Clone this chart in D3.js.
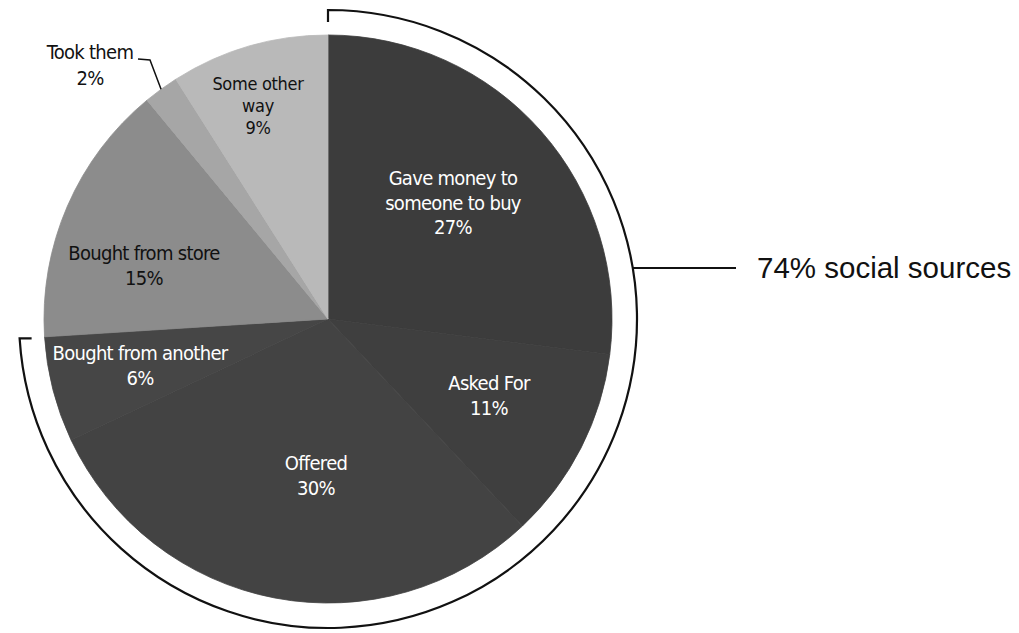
<!DOCTYPE html>
<html>
<head>
<meta charset="utf-8">
<script src="https://cdn.jsdelivr.net/npm/d3@7"></script>
<style>
  html, body { margin: 0; padding: 0; background: #fff; }
  svg { display: block; }
</style>
</head>
<body>
<svg id="chart" width="1019" height="633"></svg>
<script>
// How people obtained them (share of respondents, %)
const categories = [
  "Gave money to someone to buy",
  "Asked For",
  "Offered",
  "Bought from another",
  "Bought from store",
  "Took them",
  "Some other way"
];
const values = [27, 11, 30, 6, 15, 2, 9];
// Text lines for each slice label
const labelLines = [
  ["Gave money to", "someone to buy", "27%"],
  ["Asked For", "11%"],
  ["Offered", "30%"],
  ["Bought from another", "6%"],
  ["Bought from store", "15%"],
  ["Took them", "2%"],
  ["Some other", "way", "9%"]
];
const sliceFills = ["#3c3c3c", "#3f3f3f", "#434343", "#464646", "#8c8c8c", "#a6a6a6", "#b9b9b9"];
const labelFills = ["#fff", "#fff", "#fff", "#fff", "#111", "#111", "#111"];
// Slices that make up the "social" bracket
const socialCategories = categories.slice(0, 4);
const bracketText = "74% social sources";

const svg = d3.select("#chart");
const cx = 328, cy = 319, R = 284, bracketR = 309;
const g = svg.append("g").attr("transform", `translate(${cx},${cy})`);

const pie = d3.pie().sort(null).value(d => d.value);
const arcs = pie(categories.map((c, i) => ({ name: c, value: values[i], i })));
const arc = d3.arc().innerRadius(0).outerRadius(R);

g.selectAll("path.slice")
  .data(arcs)
  .join("path")
  .attr("class", "slice")
  .attr("d", arc)
  .attr("fill", d => sliceFills[d.data.i])
  .attr("stroke", d => sliceFills[d.data.i])
  .attr("stroke-width", 0.8);

// Label anchors (centre of the first text line, relative to the pie centre)
const labelPos = {
  "Gave money to someone to buy": [125, -141],
  "Asked For": [161, 64],
  "Offered": [-12, 144],
  "Bought from another": [-188, 34],
  "Bought from store": [-184, -66],
  "Some other way": [-70, -235]
};
const lineGap = { "Some other way": 22 };
const sizeOf = { "Some other way": 18 };

const font = "'DejaVu Sans Condensed', 'DejaVu Sans', sans-serif";
const fontSize = 20;
arcs.forEach(d => {
  const name = d.data.name;
  if (name === "Took them") return;
  const lines = labelLines[d.data.i];
  const [lx, ly] = labelPos[name];
  const lh = lineGap[name] || 24.5;
  const fs = sizeOf[name] || fontSize;
  const t = g.append("text")
    .attr("text-anchor", "middle")
    .attr("font-family", font)
    .attr("font-size", fs)
    .attr("letter-spacing", fs === fontSize ? -0.7 : -0.3)
    .attr("fill", labelFills[d.data.i]);
  lines.forEach((ln, k) => {
    t.append("tspan").attr("x", lx).attr("y", ly + k * lh + fs * 0.35).text(ln);
  });
});

// "Took them" sits outside the pie with a leader line
const took = arcs.find(d => d.data.name === "Took them");
const midA = (took.startAngle + took.endAngle) / 2;
const edge = [R * Math.sin(midA), -R * Math.cos(midA)];
const tookX = 90 - cx, tookY = 52 - cy;
const tookT = g.append("text")
  .attr("text-anchor", "middle")
  .attr("font-family", font)
  .attr("font-size", fontSize)
  .attr("letter-spacing", -0.7)
  .attr("fill", "#111");
labelLines[took.data.i].forEach((ln, k) => {
  tookT.append("tspan").attr("x", tookX).attr("y", tookY + k * 26 + 7).text(ln);
});
g.append("path")
  .attr("d", d3.line()([[tookX + 48, tookY + 7], [tookX + 60, tookY + 8], edge]))
  .attr("fill", "none")
  .attr("stroke", "#111")
  .attr("stroke-width", 1.5);

// Bracket around the social slices
const socialArcs = arcs.filter(d => socialCategories.includes(d.data.name));
const a0 = socialArcs[0].startAngle;
const a1 = socialArcs[socialArcs.length - 1].endAngle;
const pt = (r, a) => [r * Math.sin(a), -r * Math.cos(a)];
const bp = d3.path();
const tickIn = 12;
bp.moveTo(...pt(bracketR - tickIn, a0));
bp.lineTo(...pt(bracketR, a0));
bp.arc(0, 0, bracketR, a0 - Math.PI / 2, a1 - Math.PI / 2, false);
const endPt = pt(bracketR, a1);
bp.lineTo(endPt[0] + tickIn, endPt[1]);
g.append("path")
  .attr("d", bp.toString())
  .attr("fill", "none")
  .attr("stroke", "#111")
  .attr("stroke-width", 2.2);

// Connector and bracket caption
const connY = 268 - cy;
const connX = Math.sqrt(bracketR * bracketR - connY * connY);
g.append("line")
  .attr("x1", connX).attr("y1", connY)
  .attr("x2", 736 - cx).attr("y2", connY)
  .attr("stroke", "#111")
  .attr("stroke-width", 1.8);
svg.append("text")
  .attr("x", 757).attr("y", 278)
  .attr("font-family", "'Liberation Sans', Arial, sans-serif")
  .attr("font-size", 29.5)
  .attr("fill", "#111")
  .text(bracketText);
</script>
</body>
</html>
